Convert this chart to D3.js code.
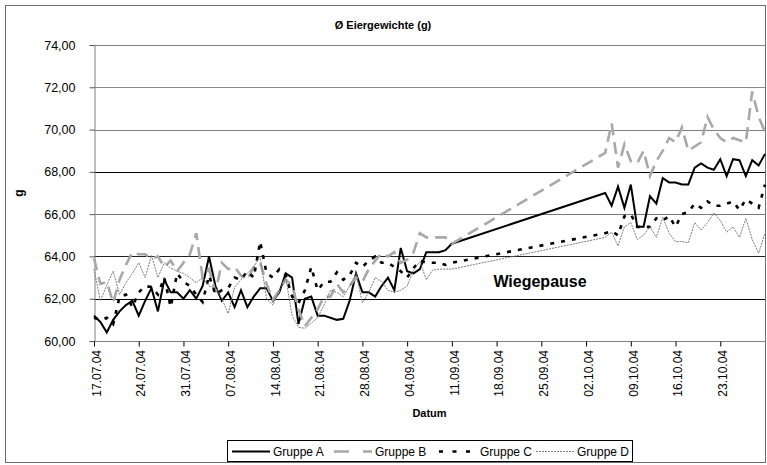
<!DOCTYPE html>
<html><head><meta charset="utf-8">
<script src="https://cdn.jsdelivr.net/npm/d3@7"></script>
<style>
html,body{margin:0;padding:0;background:#fff;}
svg{display:block;font-family:"Liberation Sans",Arial,sans-serif;}
</style></head>
<body><svg id="c" width="767" height="465"></svg>
<script>
// ---- data ----
const title = "Ø Eiergewichte (g)";
const xTitle = "Datum";
const yTitle = "g";
const note = "Wiegepause";
const groups = ["Gruppe A", "Gruppe B", "Gruppe C", "Gruppe D"];
const seg1Start = "17.07.04";   // daily weighings, 57 days
const seg2Start = "05.10.04";   // daily weighings, 26 days
const xTickLabels = ["17.07.04","24.07.04","31.07.04","07.08.04","14.08.04","21.08.04","28.08.04","04.09.04","11.09.04","18.09.04","25.09.04","02.10.04","09.10.04","16.10.04","23.10.04"];
const xEnd = "30.10.04";
const yTicks = [60, 62, 64, 66, 68, 70, 72, 74];

const groupA1 = [61.2,60.9,60.4,61.0,61.4,61.7,61.9,61.2,61.9,62.5,61.4,62.9,62.3,62.3,62.0,62.4,62.0,62.6,64.0,62.6,61.9,62.3,61.6,62.4,61.6,62.1,62.5,62.5,61.9,62.3,63.2,63.0,60.8,62.0,62.1,61.2,61.2,61.1,61.0,61.05,61.9,63.2,62.3,62.3,62.1,62.6,63.0,62.4,64.4,63.3,63.2,63.4,64.2,64.2,64.2,64.3,64.6];
const groupA2 = [67.0,66.4,67.3,66.3,67.4,65.4,65.4,66.85,66.5,67.7,67.5,67.5,67.4,67.4,68.2,68.4,68.2,68.1,68.6,67.8,68.6,68.55,67.8,68.55,68.3,68.85];
const groupB1 = [63.9,62.7,62.8,61.8,62.9,63.6,64.2,64.1,64.1,63.9,64.0,63.5,63.8,63.3,63.7,64.1,65.1,63.0,63.4,62.3,63.7,63.4,63.5,63.1,62.9,63.5,63.7,62.7,61.95,62.4,62.9,62.6,61.5,60.7,61.1,61.5,62.1,62.1,62.7,62.3,62.6,63.0,62.8,63.4,63.8,64.15,64.0,64.2,63.7,63.85,64.2,65.1,64.9,64.9,64.9,64.9,64.6];
const groupB2 = [68.9,70.3,68.2,69.3,68.5,68.4,69.0,67.8,68.5,69.0,69.6,69.4,70.1,69.0,69.2,69.4,70.6,70.0,69.6,69.4,69.6,69.5,69.4,71.8,70.6,69.9];
const groupC1 = [61.1,61.0,61.1,60.8,62.1,62.2,61.6,62.3,62.6,62.55,62.2,63.0,61.6,63.2,62.8,62.6,62.2,61.85,63.1,62.2,62.4,62.5,63.0,62.9,63.3,63.0,64.7,63.2,63.0,63.4,63.1,62.1,61.8,62.4,63.5,62.4,62.8,62.8,63.25,62.9,63.1,63.7,63.5,63.8,64.0,63.7,63.7,63.5,63.3,63.0,63.45,63.8,63.7,63.7,63.7,63.6,63.7];
const groupC2 = [65.1,65.2,65.0,65.9,66.0,65.4,65.4,65.4,65.8,65.7,65.9,65.4,66.0,66.1,66.5,66.3,66.6,66.4,66.4,66.5,66.6,66.2,66.7,66.5,66.3,67.4];
const groupD1 = [63.4,61.9,62.65,63.3,62.2,62.75,63.2,63.7,63.0,64.05,63.0,63.7,63.45,63.3,63.2,63.0,62.75,63.0,62.6,62.5,62.0,61.3,62.55,62.9,63.2,63.5,64.0,62.0,61.7,62.4,63.0,61.2,60.65,60.6,60.85,61.1,61.7,62.4,62.3,62.1,62.6,63.2,61.8,62.3,63.0,62.8,62.4,62.3,62.4,62.6,63.35,63.75,62.9,63.35,63.4,63.4,63.4];
const groupD2 = [64.9,65.15,64.5,65.4,65.6,64.8,65.0,65.4,64.9,65.85,65.1,64.7,64.7,64.65,65.6,65.25,65.6,66.05,65.7,65.15,65.4,64.9,65.8,64.8,64.15,65.1];

// ---- build ----
const parse = d3.timeParse("%d.%m.%y");
function series(v1, v2) {
  const s1 = parse(seg1Start), s2 = parse(seg2Start);
  return v1.map((v, i) => ({date: d3.timeDay.offset(s1, i), value: v}))
    .concat(v2.map((v, i) => ({date: d3.timeDay.offset(s2, i), value: v})));
}
const data = [series(groupA1, groupA2), series(groupB1, groupB2), series(groupC1, groupC2), series(groupD1, groupD2)];
const styles = [
  {stroke: "#000", width: 2, dash: null, legDash: null},
  {stroke: "#a8a8a8", width: 2.6, dash: "12,7", legDash: "15,14"},
  {stroke: "#000", width: 2.6, dash: "4,7", legDash: "4,9.5"},
  {stroke: "#7a7a7a", width: 1, dash: "2,1", legDash: "2,1"}
];
const gridColor = {62: "#000", 64: "#222", 66: "#7a7a7a", 68: "#000", 70: "#808080", 72: "#8a8a8a", 74: "#808080"};

const svg = d3.select("#c");
const L = 94, R = 765, T = 45, B = 341;
const x = d3.scaleTime().domain([parse(seg1Start), parse(xEnd)]).range([L, R]);
const y = d3.scaleLinear().domain([60, 74]).range([B, T]);
const loc = d3.formatLocale({decimal: ",", thousands: ".", grouping: [3], currency: ["", "€"]});
const fmt = loc.format(".2f");
const FF = "Liberation Sans, Arial, sans-serif";

// outer border
svg.append("rect").attr("x", 5.5).attr("y", 5.5).attr("width", 760).attr("height", 457)
  .attr("fill", "#fff").attr("stroke", "#6e6e6e").attr("stroke-width", 1);

// gridlines
svg.append("g").selectAll("line").data(yTicks.filter(d => d > 60)).join("line")
  .attr("x1", L).attr("x2", R).attr("y1", d => Math.round(y(d)) + 0.5).attr("y2", d => Math.round(y(d)) + 0.5)
  .attr("stroke", d => gridColor[d]).attr("stroke-width", 1);

// y axis
const yAxis = svg.append("g").attr("transform", `translate(${L + 0.5},0)`)
  .call(d3.axisLeft(y).tickValues(yTicks).tickFormat(fmt).tickSize(5).tickSizeOuter(0));
yAxis.select(".domain").attr("stroke", "#808080");
yAxis.selectAll(".tick line").attr("stroke", "#555");
yAxis.selectAll(".tick text").attr("font-size", 12.5).attr("fill", "#000").attr("x", -19)
  .attr("font-family", FF);

// x axis
const xAxis = svg.append("g").attr("transform", `translate(0,${B + 0.5})`)
  .call(d3.axisBottom(x).tickValues(xTickLabels.map(parse)).tickFormat(d3.timeFormat("%d.%m.%y")).tickSize(5).tickSizeOuter(0));
xAxis.select(".domain").attr("stroke", "#808080").attr("d", `M${L},0H${R}`);
xAxis.selectAll(".tick line").attr("stroke", "#000");
xAxis.selectAll(".tick text").attr("font-size", 12).attr("fill", "#000")
  .attr("font-family", FF)
  .attr("transform", "rotate(-90)").attr("text-anchor", "end")
  .attr("x", -8.5).attr("y", 2).attr("dy", "0.35em").attr("dx", 0);

// lines
const line = d3.line().x(d => x(d.date)).y(d => y(d.value));
svg.append("g").selectAll("path").data(data).join("path")
  .attr("d", line).attr("fill", "none")
  .attr("stroke", (d, i) => styles[i].stroke)
  .attr("stroke-width", (d, i) => styles[i].width)
  .attr("stroke-dasharray", (d, i) => styles[i].dash)
  .attr("stroke-linejoin", "miter");

// titles
svg.append("text").attr("x", 383).attr("y", 29).attr("text-anchor", "middle")
  .attr("font-size", 11).attr("font-weight", "bold").text(title);
svg.append("text").attr("x", (L + R) / 2).attr("y", 417).attr("text-anchor", "middle")
  .attr("font-size", 11).attr("font-weight", "bold").text(xTitle);
svg.append("text").attr("transform", "translate(23,193) rotate(-90)").attr("text-anchor", "middle")
  .attr("font-size", 12).attr("font-weight", "bold").text(yTitle);
svg.append("text").attr("x", 540).attr("y", 287).attr("text-anchor", "middle")
  .attr("font-size", 16).attr("font-weight", "bold").text(note);

// legend
const lg = svg.append("g");
lg.append("rect").attr("x", 227.5).attr("y", 440.5).attr("width", 405).attr("height", 21)
  .attr("fill", "#fff").attr("stroke", "#000");
const legTextX = [273, 375, 480, 577];
groups.forEach((g, i) => {
  const s = styles[i];
  lg.append("line").attr("x1", legTextX[i] - 41).attr("x2", legTextX[i] - 3).attr("y1", 451.5).attr("y2", 451.5)
    .attr("stroke", s.stroke).attr("stroke-width", s.width).attr("stroke-dasharray", s.legDash);
  lg.append("text").attr("x", legTextX[i]).attr("y", 456).attr("font-size", 12).text(g);
});
</script></body></html>
